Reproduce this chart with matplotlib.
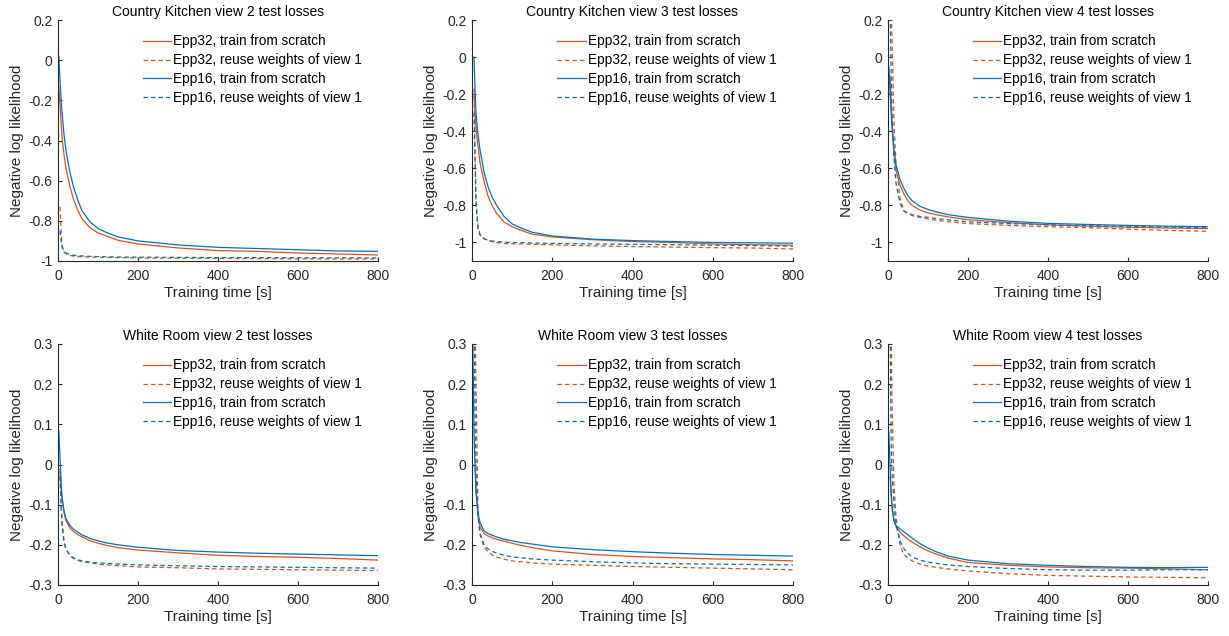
import numpy as np
import matplotlib.pyplot as plt
from matplotlib.ticker import FuncFormatter

plt.rcParams['font.family'] = ['Liberation Sans', 'DejaVu Sans']

# common time grid [s]
t = [2, 5, 8, 10, 15, 20, 30, 40, 50, 60, 80, 100, 120, 150, 200, 300, 400, 500, 600, 700, 800]
nan = np.nan

# Country Kitchen view 2
ck2_epp32_scratch = [-0.13, -0.22, -0.32, -0.38, -0.47, -0.54, -0.63, -0.70, -0.75, -0.79, -0.835, -0.86, -0.875, -0.897, -0.915, -0.935, -0.948, -0.952, -0.96, -0.965, -0.97]
ck2_epp32_reuse = [nan, -0.73, -0.85, -0.92, -0.955, -0.965, -0.972, -0.976, -0.978, -0.979, -0.98, -0.981, -0.982, -0.983, -0.985, -0.986, -0.987, -0.988, -0.989, -0.99, -0.99]
ck2_epp16_scratch = [0.02, -0.1, -0.2, -0.26, -0.37, -0.45, -0.56, -0.64, -0.70, -0.75, -0.805, -0.838, -0.857, -0.88, -0.9, -0.92, -0.932, -0.938, -0.944, -0.95, -0.952]
ck2_epp16_reuse = [nan, -0.85, -0.9, -0.93, -0.95, -0.96, -0.968, -0.972, -0.974, -0.975, -0.977, -0.978, -0.979, -0.98, -0.981, -0.982, -0.983, -0.983, -0.984, -0.984, -0.985]

# Country Kitchen view 3
ck3_epp32_scratch = [nan, -0.2, -0.32, -0.38, -0.48, -0.57, -0.67, -0.75, -0.80, -0.84, -0.89, -0.915, -0.933, -0.955, -0.97, -0.985, -0.995, -1.0, -1.008, -1.012, -1.015]
ck3_epp32_reuse = [nan, -0.17, -0.55, -0.75, -0.92, -0.955, -0.98, -0.99, -0.996, -1.0, -1.005, -1.007, -1.008, -1.01, -1.013, -1.018, -1.022, -1.025, -1.028, -1.03, -1.035]
ck3_epp16_scratch = [nan, 0.0, -0.2, -0.3, -0.42, -0.5, -0.62, -0.7, -0.755, -0.795, -0.86, -0.9, -0.92, -0.945, -0.965, -0.982, -0.99, -0.995, -1.0, -1.002, -1.004]
ck3_epp16_reuse = [nan, -0.3, -0.6, -0.8, -0.93, -0.96, -0.98, -0.988, -0.992, -0.995, -0.998, -1.0, -1.001, -1.003, -1.005, -1.008, -1.01, -1.012, -1.015, -1.017, -1.02]

# Country Kitchen view 4
ck4_epp32_scratch = [nan, -0.1, -0.25, -0.35, -0.52, -0.61, -0.69, -0.74, -0.775, -0.8, -0.825, -0.84, -0.85, -0.862, -0.877, -0.893, -0.905, -0.912, -0.918, -0.922, -0.925]
ck4_epp32_reuse = [nan, nan, 0.3, 0.1, -0.35, -0.58, -0.76, -0.83, -0.845, -0.855, -0.865, -0.873, -0.88, -0.888, -0.898, -0.908, -0.915, -0.92, -0.928, -0.935, -0.94]
ck4_epp16_scratch = [-0.05, -0.18, -0.3, -0.38, -0.5, -0.58, -0.66, -0.71, -0.748, -0.775, -0.805, -0.822, -0.835, -0.85, -0.865, -0.885, -0.897, -0.903, -0.908, -0.912, -0.915]
ck4_epp16_reuse = [nan, 0.3, -0.1, -0.3, -0.55, -0.68, -0.79, -0.83, -0.842, -0.85, -0.86, -0.865, -0.871, -0.878, -0.888, -0.898, -0.905, -0.91, -0.913, -0.917, -0.92]

# White Room view 2
wr2_epp32_scratch = [nan, -0.02, -0.06, -0.085, -0.12, -0.14, -0.158, -0.168, -0.175, -0.18, -0.19, -0.196, -0.201, -0.207, -0.213, -0.22, -0.226, -0.229, -0.231, -0.234, -0.238]
wr2_epp32_reuse = [nan, -0.01, -0.1, -0.14, -0.19, -0.21, -0.227, -0.235, -0.239, -0.242, -0.245, -0.248, -0.25, -0.252, -0.255, -0.257, -0.26, -0.261, -0.262, -0.263, -0.264]
wr2_epp16_scratch = [0.085, 0.02, -0.05, -0.08, -0.115, -0.135, -0.152, -0.162, -0.169, -0.175, -0.184, -0.19, -0.195, -0.2, -0.206, -0.214, -0.218, -0.221, -0.223, -0.225, -0.227]
wr2_epp16_reuse = [nan, -0.03, -0.11, -0.15, -0.195, -0.212, -0.226, -0.233, -0.237, -0.24, -0.243, -0.245, -0.246, -0.248, -0.25, -0.252, -0.254, -0.255, -0.256, -0.257, -0.258]

# White Room view 3
wr3_epp32_scratch = [nan, nan, 0.0, -0.06, -0.13, -0.155, -0.172, -0.178, -0.182, -0.186, -0.191, -0.196, -0.201, -0.207, -0.215, -0.224, -0.229, -0.232, -0.235, -0.237, -0.24]
wr3_epp32_reuse = [nan, nan, 0.35, 0.2, -0.12, -0.175, -0.205, -0.218, -0.225, -0.23, -0.236, -0.24, -0.242, -0.245, -0.248, -0.251, -0.254, -0.256, -0.258, -0.26, -0.262]
wr3_epp16_scratch = [0.3, 0.08, -0.02, -0.07, -0.12, -0.145, -0.165, -0.172, -0.176, -0.18, -0.186, -0.19, -0.194, -0.198, -0.205, -0.212, -0.217, -0.221, -0.224, -0.226, -0.228]
wr3_epp16_reuse = [nan, 0.35, 0.1, -0.02, -0.13, -0.17, -0.2, -0.21, -0.216, -0.22, -0.226, -0.23, -0.232, -0.235, -0.238, -0.242, -0.245, -0.247, -0.248, -0.249, -0.25]

# White Room view 4
wr4_epp32_scratch = [nan, -0.03, -0.08, -0.11, -0.14, -0.155, -0.168, -0.178, -0.186, -0.193, -0.205, -0.215, -0.223, -0.233, -0.244, -0.251, -0.255, -0.257, -0.258, -0.26, -0.262]
wr4_epp32_reuse = [nan, nan, 0.35, 0.15, -0.05, -0.13, -0.2, -0.225, -0.233, -0.24, -0.248, -0.253, -0.256, -0.26, -0.265, -0.272, -0.276, -0.278, -0.28, -0.281, -0.282]
wr4_epp16_scratch = [0.08, 0.0, -0.07, -0.1, -0.14, -0.152, -0.16, -0.168, -0.175, -0.183, -0.197, -0.208, -0.217, -0.228, -0.238, -0.247, -0.251, -0.254, -0.256, -0.257, -0.256]
wr4_epp16_reuse = [nan, 0.35, 0.05, -0.02, -0.1, -0.15, -0.19, -0.21, -0.221, -0.23, -0.238, -0.243, -0.246, -0.25, -0.254, -0.259, -0.262, -0.263, -0.263, -0.262, -0.262]

titles = ['Country Kitchen view 2 test losses', 'Country Kitchen view 3 test losses', 'Country Kitchen view 4 test losses',
          'White Room view 2 test losses', 'White Room view 3 test losses', 'White Room view 4 test losses']
panels = [
    (ck2_epp32_scratch, ck2_epp32_reuse, ck2_epp16_scratch, ck2_epp16_reuse),
    (ck3_epp32_scratch, ck3_epp32_reuse, ck3_epp16_scratch, ck3_epp16_reuse),
    (ck4_epp32_scratch, ck4_epp32_reuse, ck4_epp16_scratch, ck4_epp16_reuse),
    (wr2_epp32_scratch, wr2_epp32_reuse, wr2_epp16_scratch, wr2_epp16_reuse),
    (wr3_epp32_scratch, wr3_epp32_reuse, wr3_epp16_scratch, wr3_epp16_reuse),
    (wr4_epp32_scratch, wr4_epp32_reuse, wr4_epp16_scratch, wr4_epp16_reuse),
]
labels = ['Epp32, train from scratch', 'Epp32, reuse weights of view 1',
          'Epp16, train from scratch', 'Epp16, reuse weights of view 1']
ylims = [(-1, 0.2), (-1.1, 0.2), (-1.1, 0.2), (-0.3, 0.3), (-0.3, 0.3), (-0.3, 0.3)]
yticks = [np.arange(-1, 0.21, 0.2)] * 3 + [np.arange(-0.3, 0.31, 0.1)] * 3

orange = '#D95319'
blue = '#0072BD'
colors = [orange, orange, blue, blue]
styles = ['-', (0, (3.5, 2.5)), '-', (0, (3.5, 2.5))]

W, H = 1229, 636
col_x = [(58, 378), (472, 793), (888, 1208)]
row_y = [(20, 261), (344, 585)]

fig = plt.figure(figsize=(W / 100, H / 100), dpi=100)
fmt = FuncFormatter(lambda v, p: '%g' % (round(v, 2) + 0.0))

for k in range(6):
    r, c = divmod(k, 3)
    x0, x1 = col_x[c]
    y0, y1 = row_y[r]
    ax = fig.add_axes([x0 / W, 1 - y1 / H, (x1 - x0) / W, (y1 - y0) / H])
    for i in range(4):
        ax.plot(t, panels[k][i], color=colors[i], ls=styles[i], lw=0.9, label=labels[i])
    ax.set_xlim(0, 800)
    ax.set_ylim(*ylims[k])
    ax.set_xticks([0, 200, 400, 600, 800])
    ax.set_yticks(yticks[k])
    ax.yaxis.set_major_formatter(fmt)
    for s in ['top', 'right']:
        ax.spines[s].set_visible(False)
    for s in ['left', 'bottom']:
        ax.spines[s].set_color('#262626')
        ax.spines[s].set_linewidth(0.8)
    ax.tick_params(direction='in', length=3, width=0.8, colors='#262626', labelsize=10)
    ax.tick_params(axis='x', pad=6)
    ax.tick_params(axis='y', pad=4)
    ax.set_title(titles[k], fontsize=10, color='#000000', pad=3)
    ax.set_xlabel('Training time [s]', fontsize=11, color='#262626', labelpad=2)
    ax.set_ylabel('Negative log likelihood', fontsize=11, color='#262626', labelpad=3)
    ax.legend(loc='upper left', bbox_to_anchor=(0.265, 0.94), frameon=False, fontsize=9.8,
              handlelength=2.1, handletextpad=0.15, labelspacing=0.36, borderpad=0, borderaxespad=0)

fig.savefig('out.png', dpi=100)
